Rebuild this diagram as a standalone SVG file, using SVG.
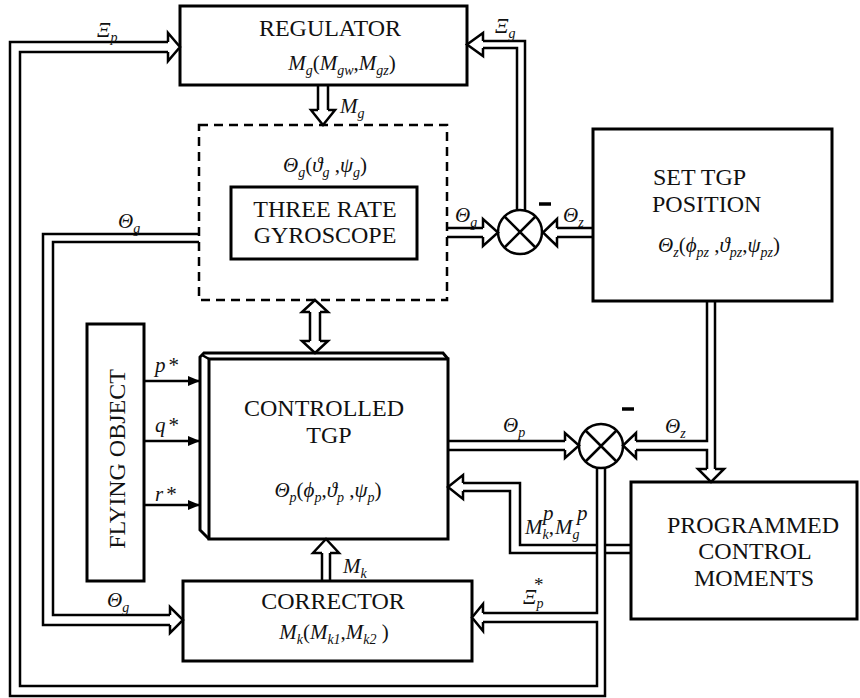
<svg xmlns="http://www.w3.org/2000/svg" width="860" height="698" viewBox="0 0 860 698">
<style>
.bx{fill:none;stroke:#000;stroke-width:3}
.ln{fill:none;stroke:#000;stroke-width:2.5}
.hd{fill:#fff;stroke:#000;stroke-width:2.5;stroke-linejoin:miter}
.t{font-family:"Liberation Serif","Times New Roman",serif;font-size:24px;fill:#111}
.m{font-family:"Liberation Serif","Times New Roman",serif;font-size:21px;font-style:italic;fill:#111}
.s{font-size:14px}
.c{text-anchor:middle}
.neg{stroke:#000;stroke-width:3.5}
</style>
<defs>
<marker id="ah" markerWidth="12" markerHeight="10" refX="11" refY="5" orient="auto" markerUnits="userSpaceOnUse">
<path d="M0,0 L12,5 L0,10 Z" fill="#000"/>
</marker>
</defs>
<rect width="860" height="698" fill="#fff"/>

<g id="regulator">
<rect class="bx" x="180" y="6" width="287" height="79"/>
<text class="t c" x="330" y="36">REGULATOR</text>
<text class="m c" x="342" y="70">M<tspan class="s" dy="5">g</tspan><tspan dy="-5" font-style="normal">(</tspan>M<tspan class="s" dy="5">gw</tspan><tspan dy="-5" font-style="normal">,</tspan>M<tspan class="s" dy="5">gz</tspan><tspan dy="-5" font-style="normal">)</tspan></text>
</g>

<g id="gyroscope">
<rect x="199" y="125" width="248" height="175" fill="none" stroke="#000" stroke-width="2.5" stroke-dasharray="9 6"/>
<text class="m c" x="325" y="172">Θ<tspan class="s" dy="5">g</tspan><tspan dy="-5" font-style="normal">(</tspan>ϑ<tspan class="s" dy="5">g</tspan><tspan dy="-5" font-style="normal"> ,</tspan>ψ<tspan class="s" dy="5">g</tspan><tspan dy="-5" font-style="normal">)</tspan></text>
<rect class="bx" x="231" y="187" width="186" height="72"/>
<text class="t c" x="325" y="217">THREE RATE</text>
<text class="t c" x="325" y="243">GYROSCOPE</text>
</g>

<g id="set-tgp">
<rect class="bx" x="593" y="129" width="239" height="172"/>
<text class="t" x="653" y="185">SET TGP</text>
<text class="t" x="652" y="212">POSITION</text>
<text class="m c" x="719" y="252">Θ<tspan class="s" dy="5">z</tspan><tspan dy="-5" font-style="normal">(</tspan>ϕ<tspan class="s" dy="5">pz</tspan><tspan dy="-5" font-style="normal"> ,</tspan>ϑ<tspan class="s" dy="5">pz</tspan><tspan dy="-5" font-style="normal">,</tspan>ψ<tspan class="s" dy="5">pz</tspan><tspan dy="-5" font-style="normal">)</tspan></text>
</g>

<g id="flying-object">
<rect class="bx" x="87" y="324" width="57" height="257"/>
<text class="t c" transform="translate(125,459) rotate(-90)">FLYING OBJECT</text>
</g>

<g id="controlled-tgp">
<rect class="bx" x="209" y="359" width="239" height="180"/>
<path class="bx" d="M209,539 L200,530 L200,357 L204,353 L443,353 L448,359"/>
<path class="ln" d="M202,355 L209,359"/>
<text class="t c" x="324" y="416">CONTROLLED</text>
<text class="t c" x="329" y="443">TGP</text>
<text class="m c" x="328" y="497">Θ<tspan class="s" dy="5">p</tspan><tspan dy="-5" font-style="normal">(</tspan>ϕ<tspan class="s" dy="5">p</tspan><tspan dy="-5" font-style="normal">,</tspan>ϑ<tspan class="s" dy="5">p</tspan><tspan dy="-5" font-style="normal"> ,</tspan>ψ<tspan class="s" dy="5">p</tspan><tspan dy="-5" font-style="normal">)</tspan></text>
</g>

<g id="corrector">
<rect class="bx" x="183" y="581" width="289" height="80"/>
<text class="t c" x="333" y="609">CORRECTOR</text>
<text class="m c" x="334" y="639">M<tspan class="s" dy="5">k</tspan><tspan dy="-5" font-style="normal">(</tspan>M<tspan class="s" dy="5">k1</tspan><tspan dy="-5" font-style="normal">,</tspan>M<tspan class="s" dy="5">k2</tspan><tspan dy="-5" font-style="normal"> )</tspan></text>
</g>

<g id="programmed">
<rect class="bx" x="631" y="482" width="226" height="137"/>
<text class="t c" x="753" y="533">PROGRAMMED</text>
<text class="t c" x="755" y="559">CONTROL</text>
<text class="t c" x="754" y="586">MOMENTS</text>
</g>

<g id="sum1">
<circle class="ln" cx="520" cy="232" r="22"/>
<path class="ln" d="M504.5,216.5 L535.5,247.5 M535.5,216.5 L504.5,247.5"/>
<path class="neg" d="M539,204 H551"/>
</g>

<g id="sum2">
<circle class="ln" cx="601" cy="446" r="22"/>
<path class="ln" d="M585.5,430.5 L616.5,461.5 M616.5,430.5 L585.5,461.5"/>
<path class="neg" d="M622,409 H634"/>
</g>

<g id="connectors">
<path class="ln" d="M605,468 V696 H10 V42 H168"/>
<path class="ln" d="M483,622 H597 V686 H20 V52 H168"/>
<path class="ln" d="M597,468 V613 H483"/>
<path class="hd" d="M168,42 V33 L180,47 L168,61 V52"/>
<path class="hd" d="M483,613 V604 L472,617.5 L483,631 V622"/>
<path class="ln" d="M199,234 H43 V625 H170"/>
<path class="ln" d="M199,242 H53 V615 H170"/>
<path class="hd" d="M170,615 V607 L183,620 L170,633 V625"/>
<path class="ln" d="M447,228 H483 M447,237 H483"/>
<path class="hd" d="M483,228 V219 L498,232.5 L483,246 V237"/>
<path class="ln" d="M593,228 H557 M593,237 H557"/>
<path class="hd" d="M557,228 V219 L543,232.5 L557,246 V237"/>
<path class="ln" d="M517,210 V48 H483 M525,210 V41 H483"/>
<path class="hd" d="M483,41 V33 L467,44.5 L483,56 V48"/>
<path class="ln" d="M318,85 V110 M328,85 V110"/>
<path class="hd" d="M318,110 H311 L323,125 L335,110 H328"/>
<path class="ln" d="M310,312 V341 M320,312 V341"/>
<path class="hd" d="M310,312 H302 L315,300 L328,312 H320"/>
<path class="hd" d="M310,341 H302 L315,353 L328,341 H320"/>
<path class="ln" d="M448,441 H565 M448,450 H565"/>
<path class="hd" d="M565,441 V433 L579,445.5 L565,458 V450"/>
<path class="ln" d="M707,301 V441 H636 M636,450 H707 V469 M715,301 V469"/>
<path class="hd" d="M636,441 V433 L623,445.5 L636,458 V450"/>
<path class="hd" d="M707,469 H698 L711,482 L724,469 H715"/>
<path class="ln" d="M631,545 H605 M597,545 H520 V483 H463 M631,553 H605 M597,553 H510 V491 H463"/>
<path class="hd" d="M463,483 V475 L448,487 L463,499 V491"/>
<path class="ln" d="M322,581 V553 M330,581 V553"/>
<path class="hd" d="M322,553 H313 L326,539 L339,553 H330"/>
<path class="ln" d="M144,381 H199" marker-end="url(#ah)"/>
<path class="ln" d="M144,441 H199" marker-end="url(#ah)"/>
<path class="ln" d="M144,505 H199" marker-end="url(#ah)"/>
</g>

<g id="labels">
<text class="m" x="97" y="37">Ξ<tspan class="s" dy="5">p</tspan></text>
<text class="m" x="495" y="33">Ξ<tspan class="s" dy="5">g</tspan></text>
<text class="m" x="340" y="113">M<tspan class="s" dy="5">g</tspan></text>
<text class="m" x="118" y="228">Θ<tspan class="s" dy="5">g</tspan></text>
<text class="m" x="455" y="222">Θ<tspan class="s" dy="5">g</tspan></text>
<text class="m" x="563" y="222">Θ<tspan class="s" dy="5">z</tspan></text>
<text class="m" x="503" y="432">Θ<tspan class="s" dy="5">p</tspan></text>
<text class="m" x="665" y="433">Θ<tspan class="s" dy="5">z</tspan></text>
<text class="m" x="155" y="372" font-size="23">p<tspan font-style="normal" dx="3">*</tspan></text>
<text class="m" x="155" y="432" font-size="23">q<tspan font-style="normal" dx="3">*</tspan></text>
<text class="m" x="155" y="501" font-size="23">r<tspan font-style="normal" dx="3">*</tspan></text>
<text class="m" x="343" y="573">M<tspan class="s" dy="5">k</tspan></text>
<text class="m" x="107" y="607">Θ<tspan class="s" dy="5">g</tspan></text>
<text class="m" x="523" y="604">Ξ<tspan class="s" dy="4">p</tspan></text>
<text x="534" y="591" font-family="Liberation Serif, serif" font-size="19" fill="#111">*</text>
<text class="m" x="525" y="534" font-size="23">M<tspan class="s" font-size="15" dy="5">k</tspan><tspan dy="-5" font-style="normal">,</tspan><tspan dx="1">M</tspan><tspan class="s" font-size="15" dy="5">g</tspan></text>
<text class="m" x="543" y="520" font-size="15">p</text>
<text class="m" x="577" y="520" font-size="15">p</text>
</g>
</svg>
